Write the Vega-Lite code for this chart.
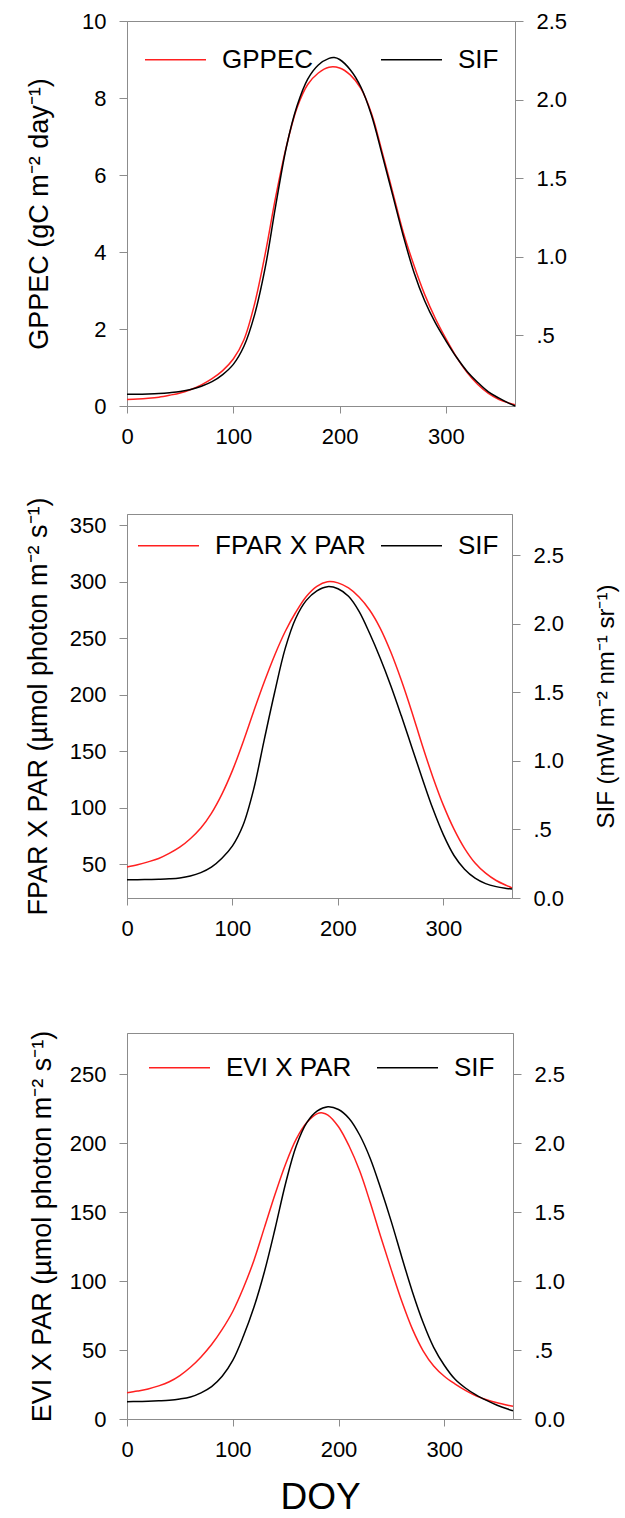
{
  "$schema": "https://vega.github.io/schema/vega-lite/v6.json",
  "padding": {"left": 23, "top": 9, "right": 0, "bottom": 0},
  "config": {
    "font": "Liberation Sans",
    "view": {"stroke": "#8c8c8c", "strokeWidth": 1},
    "axis": {"domainColor": "#8c8c8c", "tickColor": "#8c8c8c", "grid": false, "labelFontSize": 22, "labelColor": "#000", "titleFontSize": 27, "titleFontWeight": "normal", "titleColor": "#000", "labelPadding": 13, "titlePadding": 14, "tickSize": 8, "labelFlush": false, "labelOverlap": false},
    "axisX": {"tickSize": 7, "titleFontSize": 37, "titlePadding": 19, "labelPadding": 13},
    "legend": {"symbolType": "stroke", "symbolSize": 3721, "symbolStrokeWidth": 1.5, "labelFontSize": 26, "labelOffset": 15, "padding": 0, "labelColor": "#000", "orient": "none", "direction": "horizontal"},
    "line": {"strokeWidth": 1.5, "interpolate": "catmull-rom"}
  },
  "datasets": {
    "p1a": [
      {"doy": 0, "value": 0.17, "series": "GPPEC"}, {"doy": 10, "value": 0.18, "series": "GPPEC"}, {"doy": 20, "value": 0.2, "series": "GPPEC"}, {"doy": 30, "value": 0.23, "series": "GPPEC"}, {"doy": 40, "value": 0.28, "series": "GPPEC"}, {"doy": 50, "value": 0.34, "series": "GPPEC"}, {"doy": 60, "value": 0.43, "series": "GPPEC"}, {"doy": 70, "value": 0.55, "series": "GPPEC"}, {"doy": 80, "value": 0.71, "series": "GPPEC"}, {"doy": 90, "value": 0.92, "series": "GPPEC"}, {"doy": 100, "value": 1.22, "series": "GPPEC"}, {"doy": 110, "value": 1.72, "series": "GPPEC"}, {"doy": 120, "value": 2.65, "series": "GPPEC"}, {"doy": 130, "value": 3.95, "series": "GPPEC"}, {"doy": 140, "value": 5.45, "series": "GPPEC"}, {"doy": 150, "value": 6.75, "series": "GPPEC"}, {"doy": 160, "value": 7.75, "series": "GPPEC"}, {"doy": 170, "value": 8.35, "series": "GPPEC"}, {"doy": 180, "value": 8.65, "series": "GPPEC"}, {"doy": 190, "value": 8.8, "series": "GPPEC"}, {"doy": 200, "value": 8.78, "series": "GPPEC"}, {"doy": 210, "value": 8.6, "series": "GPPEC"}, {"doy": 220, "value": 8.25, "series": "GPPEC"}, {"doy": 230, "value": 7.6, "series": "GPPEC"}, {"doy": 240, "value": 6.6, "series": "GPPEC"}, {"doy": 250, "value": 5.55, "series": "GPPEC"}, {"doy": 260, "value": 4.5, "series": "GPPEC"}, {"doy": 270, "value": 3.65, "series": "GPPEC"}, {"doy": 280, "value": 2.9, "series": "GPPEC"}, {"doy": 290, "value": 2.28, "series": "GPPEC"}, {"doy": 300, "value": 1.75, "series": "GPPEC"}, {"doy": 310, "value": 1.27, "series": "GPPEC"}, {"doy": 320, "value": 0.87, "series": "GPPEC"}, {"doy": 330, "value": 0.56, "series": "GPPEC"}, {"doy": 340, "value": 0.33, "series": "GPPEC"}, {"doy": 350, "value": 0.17, "series": "GPPEC"}, {"doy": 360, "value": 0.07, "series": "GPPEC"}, {"doy": 365, "value": 0.03, "series": "GPPEC"}
    ],
    "p1b": [
      {"doy": 0, "value": 0.125, "series": "SIF"}, {"doy": 10, "value": 0.125, "series": "SIF"}, {"doy": 20, "value": 0.127, "series": "SIF"}, {"doy": 30, "value": 0.13, "series": "SIF"}, {"doy": 40, "value": 0.135, "series": "SIF"}, {"doy": 50, "value": 0.142, "series": "SIF"}, {"doy": 60, "value": 0.155, "series": "SIF"}, {"doy": 70, "value": 0.176, "series": "SIF"}, {"doy": 80, "value": 0.205, "series": "SIF"}, {"doy": 90, "value": 0.25, "series": "SIF"}, {"doy": 100, "value": 0.315, "series": "SIF"}, {"doy": 110, "value": 0.43, "series": "SIF"}, {"doy": 120, "value": 0.63, "series": "SIF"}, {"doy": 130, "value": 0.93, "series": "SIF"}, {"doy": 140, "value": 1.33, "series": "SIF"}, {"doy": 150, "value": 1.7, "series": "SIF"}, {"doy": 160, "value": 1.96, "series": "SIF"}, {"doy": 170, "value": 2.13, "series": "SIF"}, {"doy": 180, "value": 2.22, "series": "SIF"}, {"doy": 190, "value": 2.262, "series": "SIF"}, {"doy": 195, "value": 2.267, "series": "SIF"}, {"doy": 200, "value": 2.255, "series": "SIF"}, {"doy": 210, "value": 2.19, "series": "SIF"}, {"doy": 220, "value": 2.08, "series": "SIF"}, {"doy": 230, "value": 1.9, "series": "SIF"}, {"doy": 240, "value": 1.65, "series": "SIF"}, {"doy": 250, "value": 1.39, "series": "SIF"}, {"doy": 260, "value": 1.13, "series": "SIF"}, {"doy": 270, "value": 0.9, "series": "SIF"}, {"doy": 280, "value": 0.72, "series": "SIF"}, {"doy": 290, "value": 0.58, "series": "SIF"}, {"doy": 300, "value": 0.465, "series": "SIF"}, {"doy": 310, "value": 0.36, "series": "SIF"}, {"doy": 320, "value": 0.27, "series": "SIF"}, {"doy": 330, "value": 0.2, "series": "SIF"}, {"doy": 340, "value": 0.14, "series": "SIF"}, {"doy": 350, "value": 0.1, "series": "SIF"}, {"doy": 360, "value": 0.065, "series": "SIF"}, {"doy": 365, "value": 0.05, "series": "SIF"}
    ],
    "p2a": [
      {"doy": 0, "value": 47.5, "series": "FPAR X PAR"}, {"doy": 10, "value": 49.5, "series": "FPAR X PAR"}, {"doy": 20, "value": 52, "series": "FPAR X PAR"}, {"doy": 30, "value": 55, "series": "FPAR X PAR"}, {"doy": 40, "value": 59.5, "series": "FPAR X PAR"}, {"doy": 50, "value": 65, "series": "FPAR X PAR"}, {"doy": 60, "value": 72.5, "series": "FPAR X PAR"}, {"doy": 70, "value": 82, "series": "FPAR X PAR"}, {"doy": 80, "value": 95, "series": "FPAR X PAR"}, {"doy": 90, "value": 112, "series": "FPAR X PAR"}, {"doy": 100, "value": 133, "series": "FPAR X PAR"}, {"doy": 110, "value": 158, "series": "FPAR X PAR"}, {"doy": 120, "value": 185, "series": "FPAR X PAR"}, {"doy": 130, "value": 211, "series": "FPAR X PAR"}, {"doy": 140, "value": 235, "series": "FPAR X PAR"}, {"doy": 150, "value": 256, "series": "FPAR X PAR"}, {"doy": 160, "value": 273, "series": "FPAR X PAR"}, {"doy": 170, "value": 287, "series": "FPAR X PAR"}, {"doy": 180, "value": 296, "series": "FPAR X PAR"}, {"doy": 190, "value": 300, "series": "FPAR X PAR"}, {"doy": 200, "value": 299, "series": "FPAR X PAR"}, {"doy": 210, "value": 294.5, "series": "FPAR X PAR"}, {"doy": 220, "value": 286.5, "series": "FPAR X PAR"}, {"doy": 230, "value": 275, "series": "FPAR X PAR"}, {"doy": 240, "value": 259, "series": "FPAR X PAR"}, {"doy": 250, "value": 238, "series": "FPAR X PAR"}, {"doy": 260, "value": 213, "series": "FPAR X PAR"}, {"doy": 270, "value": 185, "series": "FPAR X PAR"}, {"doy": 280, "value": 155, "series": "FPAR X PAR"}, {"doy": 290, "value": 127, "series": "FPAR X PAR"}, {"doy": 300, "value": 102, "series": "FPAR X PAR"}, {"doy": 310, "value": 81, "series": "FPAR X PAR"}, {"doy": 320, "value": 64, "series": "FPAR X PAR"}, {"doy": 330, "value": 51, "series": "FPAR X PAR"}, {"doy": 340, "value": 42, "series": "FPAR X PAR"}, {"doy": 350, "value": 35.5, "series": "FPAR X PAR"}, {"doy": 360, "value": 31, "series": "FPAR X PAR"}, {"doy": 365, "value": 29, "series": "FPAR X PAR"}
    ],
    "p2b": [
      {"doy": 0, "value": 0.133, "series": "SIF"}, {"doy": 10, "value": 0.133, "series": "SIF"}, {"doy": 20, "value": 0.135, "series": "SIF"}, {"doy": 30, "value": 0.137, "series": "SIF"}, {"doy": 40, "value": 0.14, "series": "SIF"}, {"doy": 50, "value": 0.146, "series": "SIF"}, {"doy": 60, "value": 0.16, "series": "SIF"}, {"doy": 70, "value": 0.185, "series": "SIF"}, {"doy": 80, "value": 0.225, "series": "SIF"}, {"doy": 90, "value": 0.29, "series": "SIF"}, {"doy": 100, "value": 0.38, "series": "SIF"}, {"doy": 110, "value": 0.53, "series": "SIF"}, {"doy": 120, "value": 0.79, "series": "SIF"}, {"doy": 130, "value": 1.15, "series": "SIF"}, {"doy": 140, "value": 1.5, "series": "SIF"}, {"doy": 150, "value": 1.82, "series": "SIF"}, {"doy": 160, "value": 2.04, "series": "SIF"}, {"doy": 170, "value": 2.17, "series": "SIF"}, {"doy": 180, "value": 2.24, "series": "SIF"}, {"doy": 190, "value": 2.27, "series": "SIF"}, {"doy": 200, "value": 2.255, "series": "SIF"}, {"doy": 210, "value": 2.2, "series": "SIF"}, {"doy": 220, "value": 2.09, "series": "SIF"}, {"doy": 230, "value": 1.93, "series": "SIF"}, {"doy": 240, "value": 1.75, "series": "SIF"}, {"doy": 250, "value": 1.55, "series": "SIF"}, {"doy": 260, "value": 1.33, "series": "SIF"}, {"doy": 270, "value": 1.1, "series": "SIF"}, {"doy": 280, "value": 0.87, "series": "SIF"}, {"doy": 290, "value": 0.65, "series": "SIF"}, {"doy": 300, "value": 0.46, "series": "SIF"}, {"doy": 310, "value": 0.31, "series": "SIF"}, {"doy": 320, "value": 0.21, "series": "SIF"}, {"doy": 330, "value": 0.145, "series": "SIF"}, {"doy": 340, "value": 0.105, "series": "SIF"}, {"doy": 350, "value": 0.083, "series": "SIF"}, {"doy": 360, "value": 0.07, "series": "SIF"}, {"doy": 365, "value": 0.065, "series": "SIF"}
    ],
    "p3a": [
      {"doy": 0, "value": 19, "series": "EVI X PAR"}, {"doy": 10, "value": 20.3, "series": "EVI X PAR"}, {"doy": 20, "value": 21.8, "series": "EVI X PAR"}, {"doy": 30, "value": 24, "series": "EVI X PAR"}, {"doy": 40, "value": 27, "series": "EVI X PAR"}, {"doy": 50, "value": 31.5, "series": "EVI X PAR"}, {"doy": 60, "value": 37.5, "series": "EVI X PAR"}, {"doy": 70, "value": 45, "series": "EVI X PAR"}, {"doy": 80, "value": 54, "series": "EVI X PAR"}, {"doy": 90, "value": 65, "series": "EVI X PAR"}, {"doy": 100, "value": 78, "series": "EVI X PAR"}, {"doy": 110, "value": 95, "series": "EVI X PAR"}, {"doy": 120, "value": 115, "series": "EVI X PAR"}, {"doy": 130, "value": 139, "series": "EVI X PAR"}, {"doy": 140, "value": 163, "series": "EVI X PAR"}, {"doy": 150, "value": 185, "series": "EVI X PAR"}, {"doy": 160, "value": 203, "series": "EVI X PAR"}, {"doy": 170, "value": 215, "series": "EVI X PAR"}, {"doy": 180, "value": 221.5, "series": "EVI X PAR"}, {"doy": 185, "value": 222, "series": "EVI X PAR"}, {"doy": 190, "value": 220.5, "series": "EVI X PAR"}, {"doy": 200, "value": 212, "series": "EVI X PAR"}, {"doy": 210, "value": 198, "series": "EVI X PAR"}, {"doy": 220, "value": 180, "series": "EVI X PAR"}, {"doy": 230, "value": 157, "series": "EVI X PAR"}, {"doy": 240, "value": 132, "series": "EVI X PAR"}, {"doy": 250, "value": 108, "series": "EVI X PAR"}, {"doy": 260, "value": 85, "series": "EVI X PAR"}, {"doy": 270, "value": 65, "series": "EVI X PAR"}, {"doy": 280, "value": 49.5, "series": "EVI X PAR"}, {"doy": 290, "value": 38.5, "series": "EVI X PAR"}, {"doy": 300, "value": 31, "series": "EVI X PAR"}, {"doy": 310, "value": 25.5, "series": "EVI X PAR"}, {"doy": 320, "value": 20.8, "series": "EVI X PAR"}, {"doy": 330, "value": 16.8, "series": "EVI X PAR"}, {"doy": 340, "value": 14, "series": "EVI X PAR"}, {"doy": 350, "value": 11.8, "series": "EVI X PAR"}, {"doy": 360, "value": 10, "series": "EVI X PAR"}, {"doy": 365, "value": 9.2, "series": "EVI X PAR"}
    ],
    "p3b": [
      {"doy": 0, "value": 0.126, "series": "SIF"}, {"doy": 10, "value": 0.127, "series": "SIF"}, {"doy": 20, "value": 0.129, "series": "SIF"}, {"doy": 30, "value": 0.132, "series": "SIF"}, {"doy": 40, "value": 0.136, "series": "SIF"}, {"doy": 50, "value": 0.145, "series": "SIF"}, {"doy": 60, "value": 0.16, "series": "SIF"}, {"doy": 70, "value": 0.19, "series": "SIF"}, {"doy": 80, "value": 0.235, "series": "SIF"}, {"doy": 90, "value": 0.31, "series": "SIF"}, {"doy": 100, "value": 0.425, "series": "SIF"}, {"doy": 110, "value": 0.6, "series": "SIF"}, {"doy": 120, "value": 0.81, "series": "SIF"}, {"doy": 130, "value": 1.07, "series": "SIF"}, {"doy": 140, "value": 1.38, "series": "SIF"}, {"doy": 150, "value": 1.71, "series": "SIF"}, {"doy": 160, "value": 1.98, "series": "SIF"}, {"doy": 170, "value": 2.15, "series": "SIF"}, {"doy": 180, "value": 2.235, "series": "SIF"}, {"doy": 190, "value": 2.265, "series": "SIF"}, {"doy": 200, "value": 2.245, "series": "SIF"}, {"doy": 210, "value": 2.18, "series": "SIF"}, {"doy": 220, "value": 2.06, "series": "SIF"}, {"doy": 230, "value": 1.89, "series": "SIF"}, {"doy": 240, "value": 1.67, "series": "SIF"}, {"doy": 250, "value": 1.43, "series": "SIF"}, {"doy": 260, "value": 1.17, "series": "SIF"}, {"doy": 270, "value": 0.92, "series": "SIF"}, {"doy": 280, "value": 0.7, "series": "SIF"}, {"doy": 290, "value": 0.52, "series": "SIF"}, {"doy": 300, "value": 0.39, "series": "SIF"}, {"doy": 310, "value": 0.29, "series": "SIF"}, {"doy": 320, "value": 0.225, "series": "SIF"}, {"doy": 330, "value": 0.175, "series": "SIF"}, {"doy": 340, "value": 0.135, "series": "SIF"}, {"doy": 350, "value": 0.1, "series": "SIF"}, {"doy": 360, "value": 0.072, "series": "SIF"}, {"doy": 365, "value": 0.06, "series": "SIF"}
    ]
  },
  "bounds": "flush",
  "spacing": 108,
  "resolve": {"scale": {"color": "independent"}},
  "vconcat": [
    {
      "width": 388,
      "height": 385,
      "encoding": {
        "x": {"field": "doy", "type": "quantitative", "scale": {"domain": [0, 365], "nice": false, "zero": false}, "axis": {"values": [0, 100, 200, 300], "title": null}},
        "color": {"field": "series", "type": "nominal", "scale": {"domain": ["GPPEC", "SIF"], "range": ["#ff2020", "#000000"]}, "legend": {"title": null, "legendX": 17, "legendY": 7, "columnPadding": 64}}
      },
      "layer": [
        {"data": {"name": "p1a"}, "mark": "line", "encoding": {"y": {"field": "value", "type": "quantitative", "scale": {"domain": [0, 10], "nice": false, "zero": false}, "axis": {"values": [0, 2, 4, 6, 8, 10], "title": "GPPEC (gC m⁻² day⁻¹)", "titlePadding": 28}}}},
        {"data": {"name": "p1b"}, "mark": "line", "encoding": {"y": {"field": "value", "type": "quantitative", "scale": {"domain": [0.05, 2.5], "nice": false, "zero": false}, "axis": {"orient": "right", "values": [0.5, 1, 1.5, 2, 2.5], "labelExpr": "datum.value == 0.5 ? '.5' : format(datum.value, '.1f')", "title": null}}}}
      ],
      "resolve": {"scale": {"y": "independent"}}
    },
    {
      "bounds": "flush",
      "spacing": 135,
      "resolve": {"scale": {"color": "independent"}},
      "vconcat": [
        {
          "width": 385,
          "height": 384,
          "encoding": {
            "x": {"field": "doy", "type": "quantitative", "scale": {"domain": [0, 365], "nice": false, "zero": false}, "axis": {"values": [0, 100, 200, 300], "title": null}},
            "color": {"field": "series", "type": "nominal", "scale": {"domain": ["FPAR X PAR", "SIF"], "range": ["#ff2020", "#000000"]}, "legend": {"title": null, "legendX": 10, "legendY": 0, "columnPadding": 12}}
          },
          "layer": [
            {"data": {"name": "p2a"}, "mark": "line", "encoding": {"y": {"field": "value", "type": "quantitative", "scale": {"domain": [20, 360], "nice": false, "zero": false}, "axis": {"values": [50, 100, 150, 200, 250, 300, 350], "title": "FPAR X PAR (µmol photon m⁻² s⁻¹)", "titlePadding": 17}}}},
            {"data": {"name": "p2b"}, "mark": "line", "encoding": {"y": {"field": "value", "type": "quantitative", "scale": {"domain": [0, 2.8], "nice": false, "zero": false}, "axis": {"orient": "right", "values": [0, 0.5, 1, 1.5, 2, 2.5], "labelExpr": "datum.value == 0.5 ? '.5' : format(datum.value, '.1f')", "title": "SIF (mW m⁻² nm⁻¹ sr⁻¹)", "titleAngle": 270, "titleBaseline": "top", "titleFontSize": 24, "titlePadding": 31}}}}
          ],
          "resolve": {"scale": {"y": "independent"}}
        },
        {
          "width": 386,
          "height": 386,
          "encoding": {
            "x": {"field": "doy", "type": "quantitative", "scale": {"domain": [0, 365], "nice": false, "zero": false}, "axis": {"values": [0, 100, 200, 300], "title": "DOY"}},
            "color": {"field": "series", "type": "nominal", "scale": {"domain": ["EVI X PAR", "SIF"], "range": ["#ff2020", "#000000"]}, "legend": {"title": null, "legendX": 21, "legendY": 3, "columnPadding": 22}}
          },
          "layer": [
            {"data": {"name": "p3a"}, "mark": "line", "encoding": {"y": {"field": "value", "type": "quantitative", "scale": {"domain": [0, 280], "nice": false, "zero": false}, "axis": {"values": [0, 50, 100, 150, 200, 250], "title": "EVI X PAR (µmol photon m⁻² s⁻¹)", "titlePadding": 13}}}},
            {"data": {"name": "p3b"}, "mark": "line", "encoding": {"y": {"field": "value", "type": "quantitative", "scale": {"domain": [0, 2.8], "nice": false, "zero": false}, "axis": {"orient": "right", "values": [0, 0.5, 1, 1.5, 2, 2.5], "labelExpr": "datum.value == 0.5 ? '.5' : format(datum.value, '.1f')", "title": null}}}}
          ],
          "resolve": {"scale": {"y": "independent"}}
        }
      ]
    }
  ]
}
